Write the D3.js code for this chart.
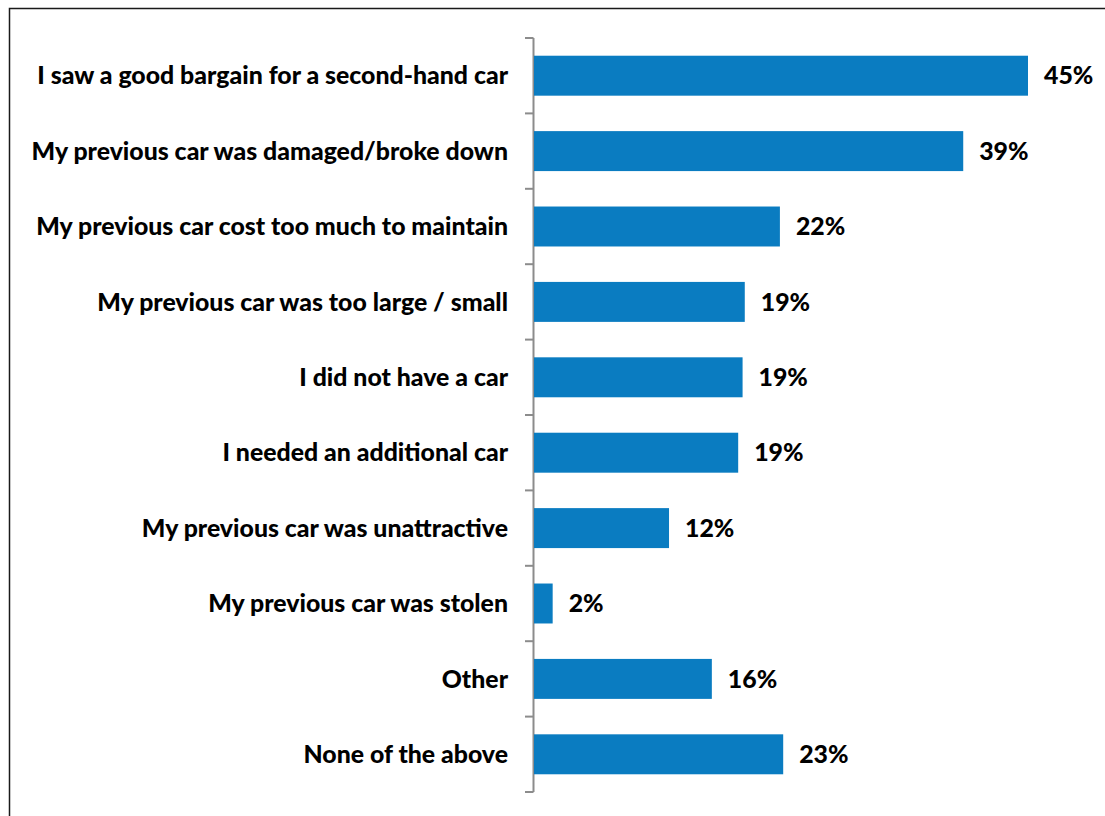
<!DOCTYPE html>
<html>
<head>
<meta charset="utf-8">
<script src="https://cdn.jsdelivr.net/npm/d3@7"></script>
<style>
  html, body { margin: 0; padding: 0; background: #ffffff; }
  svg { display: block; }
</style>
</head>
<body>
<svg id="chart" width="1105" height="816"></svg>
<script>
// Reasons for buying a car (share of respondents, %)
const categories = [
  "I saw a good bargain for a second-hand car",
  "My previous car was damaged/broke down",
  "My previous car cost too much to maintain",
  "My previous car was too large / small",
  "I did not have a car",
  "I needed an additional car",
  "My previous car was unattractive",
  "My previous car was stolen",
  "Other",
  "None of the above"
];
const values = [45.0, 39.1, 22.4, 19.2, 19.0, 18.6, 12.3, 1.7, 16.2, 22.7];

const svg = d3.select("#chart");
const W = 1105, H = 816;
const fontFamily = "Lato, 'Open Sans', 'DejaVu Sans', sans-serif";

// Outer frame (right and bottom edges run past the page)
svg.append("rect")
  .attr("x", 9.5).attr("y", 8.5)
  .attr("width", W + 20).attr("height", H + 20)
  .attr("fill", "none")
  .attr("stroke", "#1a1a1a")
  .attr("stroke-width", 1.5);

const axisX = 533.5;
const y = d3.scaleBand()
  .domain(categories)
  .range([38, 792])
  .paddingInner(0.47)
  .paddingOuter(0.235);

const x = d3.scaleLinear()
  .domain([0, 45])
  .range([534, 1028]);

// Category axis with ticks between categories
const g = svg.append("g");
g.append("line")
  .attr("x1", axisX).attr("x2", axisX)
  .attr("y1", 38).attr("y2", 792)
  .attr("stroke", "#8c8c8c").attr("stroke-width", 2);

const step = y.step();
const tickYs = d3.range(categories.length + 1).map(i => 38 + i * step);
g.selectAll("line.tick")
  .data(tickYs)
  .join("line")
  .attr("class", "tick")
  .attr("x1", 525).attr("x2", axisX)
  .attr("y1", d => d).attr("y2", d => d)
  .attr("stroke", "#8c8c8c").attr("stroke-width", 2);

// Bars
svg.selectAll("rect.bar")
  .data(values)
  .join("rect")
  .attr("class", "bar")
  .attr("x", x(0))
  .attr("y", (d, i) => y(categories[i]))
  .attr("width", d => x(d) - x(0))
  .attr("height", y.bandwidth())
  .attr("fill", "#0a7cc1");

// Category labels
const catLabels = svg.selectAll("text.cat")
  .data(categories)
  .join("text")
  .attr("class", "cat")
  .attr("x", 508)
  .attr("y", d => y(d) + y.bandwidth() / 2)
  .attr("dy", "0.35em")
  .attr("text-anchor", "end")
  .attr("font-family", fontFamily)
  .attr("font-weight", 900)
  .attr("font-size", 20)
  .attr("fill", "#000")
  .text(d => d);

// Fit the label font so the longest label spans its column
const longest = catLabels.nodes()[0].getComputedTextLength();
const fontSize = 20 * 471 / longest;
catLabels.attr("font-size", fontSize);

// Value labels
svg.selectAll("text.val")
  .data(values)
  .join("text")
  .attr("class", "val")
  .attr("x", d => x(d) + 16)
  .attr("y", (d, i) => y(categories[i]) + y.bandwidth() / 2)
  .attr("dy", "0.35em")
  .attr("font-family", fontFamily)
  .attr("font-weight", 900)
  .attr("font-size", fontSize)
  .attr("fill", "#000")
  .text(d => Math.round(d) + "%");
</script>
</body>
</html>
